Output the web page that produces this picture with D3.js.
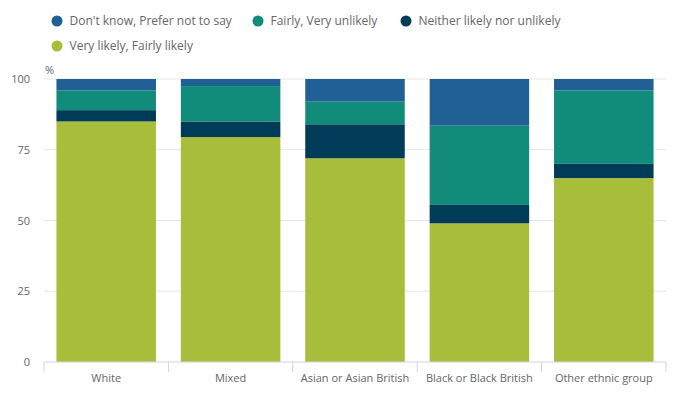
<!DOCTYPE html>
<html>
<head>
<meta charset="utf-8">
<script src="https://cdn.jsdelivr.net/npm/d3@7"></script>
<style>
  body { margin: 0; background: #fff; }
  svg text { font-family: "Open Sans", sans-serif; }
</style>
</head>
<body>
<svg id="chart" width="683" height="393"></svg>
<script>
// categories and series
const categories = ['White', 'Mixed', 'Asian or Asian British', 'Black or Black British', 'Other ethnic group']
const veryLikely = [85, 79.5, 72, 49, 65]
const neither = [4, 5.5, 12, 6.5, 5]
const unlikely = [7, 12.5, 8, 28, 26]
const dontKnow = [4, 2.5, 8, 16.5, 4]
const yTicks = [0, 25, 50, 75, 100]

const seriesNames = ['Very likely, Fairly likely', 'Neither likely nor unlikely', 'Fairly, Very unlikely', "Don't know, Prefer not to say"]
const seriesValues = [veryLikely, neither, unlikely, dontKnow]
const colors = ['#a8bd3a', '#003c57', '#118c7b', '#206095']

const margin = { left: 44, right: 17, top: 79, bottom: 31 }
const width = 683 - margin.left - margin.right
const height = 393 - margin.top - margin.bottom

const svg = d3.select('#chart')

// legend, in the order the reference shows it
const legendItems = [
    { name: seriesNames[3], color: colors[3], x: 57, y: 21 },
    { name: seriesNames[2], color: colors[2], x: 258, y: 21 },
    { name: seriesNames[1], color: colors[1], x: 406, y: 21 },
    { name: seriesNames[0], color: colors[0], x: 57, y: 46 },
]
const legend = svg.append('g').selectAll('g').data(legendItems).enter().append('g')
    .attr('transform', (d) => 'translate(' + d.x + ',' + d.y + ')')
legend.append('circle').attr('r', 5.5).attr('fill', (d) => d.color)
legend.append('text')
    .attr('x', 12.5)
    .attr('dy', '0.35em')
    .attr('fill', '#666')
    .style('font-size', '12px')
    .text((d) => d.name)

const g = svg.append('g').attr('transform', 'translate(' + margin.left + ',' + margin.top + ')')

const x = d3.scaleBand().domain(categories).range([0, width]).paddingInner(0.2).paddingOuter(0.1)
const y = d3.scaleLinear().domain([0, 100]).range([height, 0])

// gridlines
g.append('g').selectAll('line').data(yTicks.filter((t) => t > 0)).enter().append('line')
    .attr('x1', 0).attr('x2', width)
    .attr('y1', (d) => y(d)).attr('y2', (d) => y(d))
    .attr('stroke', '#e6e6e6')

// y axis labels
const yAxis = g.append('g').call(d3.axisLeft(y).tickValues(yTicks).tickSize(0).tickPadding(14))
yAxis.select('.domain').remove()
yAxis.selectAll('text').attr('fill', '#666').style('font-size', '11px').style('font-family', '"Open Sans", sans-serif')

g.append('text').attr('x', 1).attr('y', -5).attr('fill', '#666').style('font-size', '11px').text('%')

// stacked bars
const table = categories.map((c, i) => {
    const row = { category: c }
    seriesNames.forEach((s, j) => { row[s] = seriesValues[j][i] })
    return row
})
const stacked = d3.stack().keys(seriesNames)(table)

g.append('g').selectAll('g').data(stacked).enter().append('g')
    .attr('fill', (d, i) => colors[i])
    .selectAll('rect').data((d) => d).enter().append('rect')
    .attr('x', (d) => x(d.data.category))
    .attr('width', x.bandwidth())
    .attr('y', (d) => y(Math.min(100, d[1])))
    .attr('height', (d) => y(d[0]) - y(Math.min(100, d[1])))

// x axis with ticks between categories
const xAxis = g.append('g').attr('transform', 'translate(0,' + height + ')')
xAxis.append('line').attr('x1', 0).attr('x2', width).attr('stroke', '#ccd6eb')
xAxis.selectAll('line.tick').data(d3.range(categories.length + 1)).enter().append('line')
    .attr('class', 'tick')
    .attr('x1', (d) => d * width / categories.length).attr('x2', (d) => d * width / categories.length)
    .attr('y1', 0).attr('y2', 10)
    .attr('stroke', '#ccd6eb')
xAxis.selectAll('text').data(categories).enter().append('text')
    .attr('x', (d) => x(d) + x.bandwidth() / 2)
    .attr('y', 20)
    .attr('text-anchor', 'middle')
    .attr('fill', '#666')
    .style('font-size', '11px')
    .text((d) => d)
</script>
</body>
</html>
